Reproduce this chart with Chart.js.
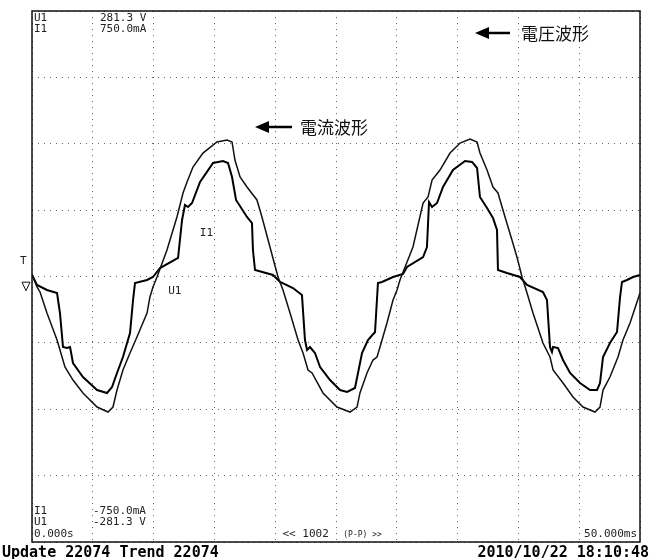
<!DOCTYPE html>
<html>
<head>
<meta charset="utf-8">
<script src="https://cdn.jsdelivr.net/npm/chart.js@4/dist/chart.umd.min.js"></script>
<style>
  html, body { margin: 0; padding: 0; background: #fff; }
  #wrap { position: relative; width: 650px; height: 559px; }
</style>
</head>
<body>
<div id="wrap"><canvas id="scope" width="650" height="559"></canvas></div>
<script>
// U1 voltage trace (ms, V)
const u1Time = [0.00, 0.41, 0.66, 1.23, 2.06, 2.47, 2.71, 3.37, 4.19, 5.35, 6.25, 6.66, 6.99, 7.48, 8.06, 8.63, 9.46, 9.70, 9.95, 10.28,
  11.10, 11.92, 12.42, 12.75, 13.24, 14.06, 15.21, 16.04, 16.45, 16.69, 17.11, 17.68, 18.50, 18.91, 19.57, 20.23, 20.64, 21.22, 21.88, 22.29,
  22.70, 23.03, 23.93, 25.08, 26.15, 26.73, 26.97, 27.55, 28.04, 28.37, 28.62, 29.19, 29.69, 30.02, 30.26, 30.68, 31.33, 32.16, 32.57, 32.90,
  33.55, 34.38, 35.20, 36.02, 36.60, 36.84, 37.42, 37.91, 38.32, 38.90, 39.47, 39.88, 40.30, 40.71, 41.20, 42.02, 42.60, 42.85, 43.67, 44.49,
  45.31, 46.30, 46.71, 46.96, 47.53, 48.19, 48.60, 49.18, 50.00];
const u1Volt = [2.6, -11.1, -16.4, -38.7, -67.3, -85.3, -95.9, -109.7, -123.4, -138.3, -143.6, -138.3, -120.3, -99.1, -81.1, -64.1, -38.7, -21.7, -11.1, -0.5,
  28.1, 63.0, 88.5, 100.1, 116.0, 130.8, 142.5, 144.6, 142.5, 123.4, 105.4, 94.8, 81.1, 63.0, 31.3, -0.5, -14.3, -38.7, -67.3, -81.1,
  -99.1, -102.2, -123.4, -138.3, -143.6, -138.3, -123.4, -102.2, -88.5, -85.3, -74.7, -49.3, -24.9, -14.3, -3.7, 10.1, 31.3, 77.9, 84.2, 102.2,
  112.8, 130.8, 141.4, 145.7, 142.5, 130.8, 112.8, 94.8, 88.5, 63.0, 38.7, 20.7, -0.5, -17.5, -38.7, -70.5, -85.3, -99.1, -112.8, -127.7,
  -138.3, -143.6, -138.3, -120.3, -106.5, -85.3, -67.3, -49.3, -17.5];

// I1 current trace (ms, mA)
const i1Time = [0.00, 0.41, 1.23, 2.06, 2.30, 2.55, 2.88, 3.13, 3.37, 4.19, 5.35, 6.17, 6.58, 6.99, 7.48, 8.06, 8.31, 8.47, 9.46, 9.95,
  10.53, 12.01, 12.34, 12.58, 12.83, 13.16, 13.82, 14.89, 15.71, 16.12, 16.45, 16.78, 17.68, 18.09, 18.17, 18.34, 19.82, 20.40, 21.46, 22.20,
  22.45, 22.62, 22.86, 23.27, 23.69, 24.51, 25.33, 25.91, 26.56, 26.81, 27.14, 27.63, 28.21, 28.45, 28.78, 29.69, 30.51, 30.84, 32.16, 32.48,
  32.65, 32.90, 33.31, 33.80, 34.62, 35.61, 36.19, 36.60, 36.84, 37.42, 37.91, 38.24, 38.32, 39.06, 40.13, 40.71, 42.02, 42.35, 42.60, 42.76,
  42.85, 43.26, 43.67, 44.25, 45.07, 45.89, 46.47, 46.71, 46.96, 47.53, 48.11, 48.36, 48.52, 48.93, 49.43, 50.00];
const i1Current = [4.2, -24.0, -38.1, -46.6, -103.1, -199.2, -202.0, -199.2, -244.4, -283.9, -320.6, -329.1, -312.2, -272.6, -227.4, -159.6, -66.4, -18.4, -9.9, -1.4,
  24.0, 52.3, 159.6, 202.0, 196.3, 207.6, 267.0, 320.6, 326.3, 320.6, 281.1, 216.1, 168.1, 151.1, 74.9, 18.4, 4.2, -15.5, -32.5, -52.3,
  -179.4, -207.6, -199.2, -216.1, -255.7, -292.4, -320.6, -326.3, -315.0, -272.6, -216.1, -179.4, -156.8, -18.4, -15.5, -1.4, 7.1, 26.8, 55.1, 83.3,
  210.5, 196.3, 207.6, 252.8, 300.9, 326.3, 323.5, 306.5, 224.6, 193.5, 165.3, 131.4, 18.4, 9.9, -1.4, -24.0, -43.8, -66.4, -199.2, -213.3,
  -199.2, -202.0, -235.9, -272.6, -300.9, -320.6, -320.6, -300.9, -227.4, -187.9, -156.8, -57.9, -15.5, -9.9, -1.4, 4.2];

// full scale settings shown on the screen
const timeRange = [0, 50];       // ms, 10 div
const voltRange = [-281.3, 281.3];
const currRange = [-750, 750];

function toPoints(xs, ys) {
    return xs.map((x, i) => ({ x: x, y: ys[i] }));
}

const MONO = '"DejaVu Sans Mono", "Liberation Mono", monospace';
const CJK = '"Noto Sans CJK JP", "Noto Sans", sans-serif';

// frame, readouts and annotations
const screenText = {
    id: 'screenText',
    afterDraw(chart) {
        const ctx = chart.ctx;
        const a = chart.chartArea;
        const xs = chart.scales.x;
        const yu = chart.scales.yU;
        ctx.save();

        // frame
        ctx.strokeStyle = '#111';
        ctx.lineWidth = 1.5;
        ctx.strokeRect(a.left, a.top, a.right - a.left, a.bottom - a.top);

        // readouts
        ctx.fillStyle = '#222';
        ctx.font = '11px ' + MONO;
        ctx.textBaseline = 'middle';
        ctx.textAlign = 'left';
        ctx.fillText('U1', a.left + 2, a.top + 7);
        ctx.fillText('281.3 V', a.left + 68, a.top + 7);
        ctx.fillText('I1', a.left + 2, a.top + 18);
        ctx.fillText('750.0mA', a.left + 68, a.top + 18);
        ctx.fillText('I1', a.left + 2, a.bottom - 31);
        ctx.fillText('-750.0mA', a.left + 61, a.bottom - 31);
        ctx.fillText('U1', a.left + 2, a.bottom - 20);
        ctx.fillText('-281.3 V', a.left + 61, a.bottom - 20);
        ctx.fillText('0.000s', a.left + 2, a.bottom - 8);
        ctx.textAlign = 'right';
        ctx.fillText('50.000ms', a.right - 3, a.bottom - 8);
        ctx.textAlign = 'left';
        ctx.fillText('<< 1002', xs.getPixelForValue(20.6), a.bottom - 8);
        ctx.font = '8px ' + MONO;
        ctx.fillText('(P-P) >>', xs.getPixelForValue(25.6), a.bottom - 7);

        // trace labels
        ctx.font = '11px ' + MONO;
        ctx.fillText('I1', xs.getPixelForValue(13.8), yu.getPixelForValue(46));
        ctx.fillText('U1', xs.getPixelForValue(11.2), yu.getPixelForValue(-16));

        // trigger / ground markers at left
        ctx.fillText('T', a.left - 12, yu.getPixelForValue(16));
        ctx.beginPath();
        ctx.moveTo(a.left - 10, yu.getPixelForValue(-6));
        ctx.lineTo(a.left - 2, yu.getPixelForValue(-6));
        ctx.moveTo(a.left - 10, yu.getPixelForValue(-6));
        ctx.lineTo(a.left - 6, yu.getPixelForValue(-15));
        ctx.lineTo(a.left - 2, yu.getPixelForValue(-6));
        ctx.lineWidth = 1;
        ctx.stroke();

        // status line under the screen
        ctx.fillStyle = '#000';
        ctx.font = 'bold 15px ' + MONO;
        ctx.textBaseline = 'alphabetic';
        ctx.textAlign = 'left';
        ctx.fillText('Update 22074 Trend 22074', 2, 557);
        ctx.textAlign = 'right';
        ctx.fillText('2010/10/22 18:10:48', 649, 557);

        // Japanese annotations with arrows
        function arrow(x1, x2, y) {
            ctx.beginPath();
            ctx.moveTo(x2, y);
            ctx.lineTo(x1 + 10, y);
            ctx.lineWidth = 2.5;
            ctx.stroke();
            ctx.beginPath();
            ctx.moveTo(x1, y);
            ctx.lineTo(x1 + 14, y - 6);
            ctx.lineTo(x1 + 14, y + 6);
            ctx.closePath();
            ctx.fill();
        }
        ctx.strokeStyle = '#000';
        arrow(475, 510, 33);
        arrow(255, 292, 127);
        ctx.font = '17px ' + CJK;
        ctx.textAlign = 'left';
        ctx.textBaseline = 'middle';
        ctx.fillStyle = '#111';
        ctx.fillText('電圧波形', 521, 34);
        ctx.fillText('電流波形', 300, 128);

        ctx.restore();
    }
};

new Chart(document.getElementById('scope').getContext('2d'), {
    type: 'line',
    data: {
        datasets: [{
            label: 'U1',
            data: toPoints(u1Time, u1Volt),
            yAxisID: 'yU',
            borderColor: '#111',
            borderWidth: 1.5,
            pointRadius: 0,
            tension: 0
        }, {
            label: 'I1',
            data: toPoints(i1Time, i1Current),
            yAxisID: 'yI',
            borderColor: '#000',
            borderWidth: 2,
            pointRadius: 0,
            tension: 0
        }]
    },
    options: {
        responsive: false,
        animation: false,
        layout: { padding: { left: 32, top: 11, right: 10, bottom: 17 } },
        plugins: {
            legend: { display: false },
            tooltip: { enabled: false }
        },
        scales: {
            x: {
                type: 'linear',
                min: timeRange[0],
                max: timeRange[1],
                ticks: { display: false, stepSize: 5 },
                grid: { color: '#666', lineWidth: 1, drawTicks: false },
                border: { display: false, dash: [1, 5] }
            },
            yU: {
                position: 'left',
                min: voltRange[0],
                max: voltRange[1],
                ticks: { display: false, stepSize: 70.325 },
                grid: { color: '#666', lineWidth: 1, drawTicks: false },
                border: { display: false, dash: [1, 5] }
            },
            yI: {
                position: 'right',
                display: false,
                min: currRange[0],
                max: currRange[1]
            }
        }
    },
    plugins: [screenText]
});
</script>
</body>
</html>
